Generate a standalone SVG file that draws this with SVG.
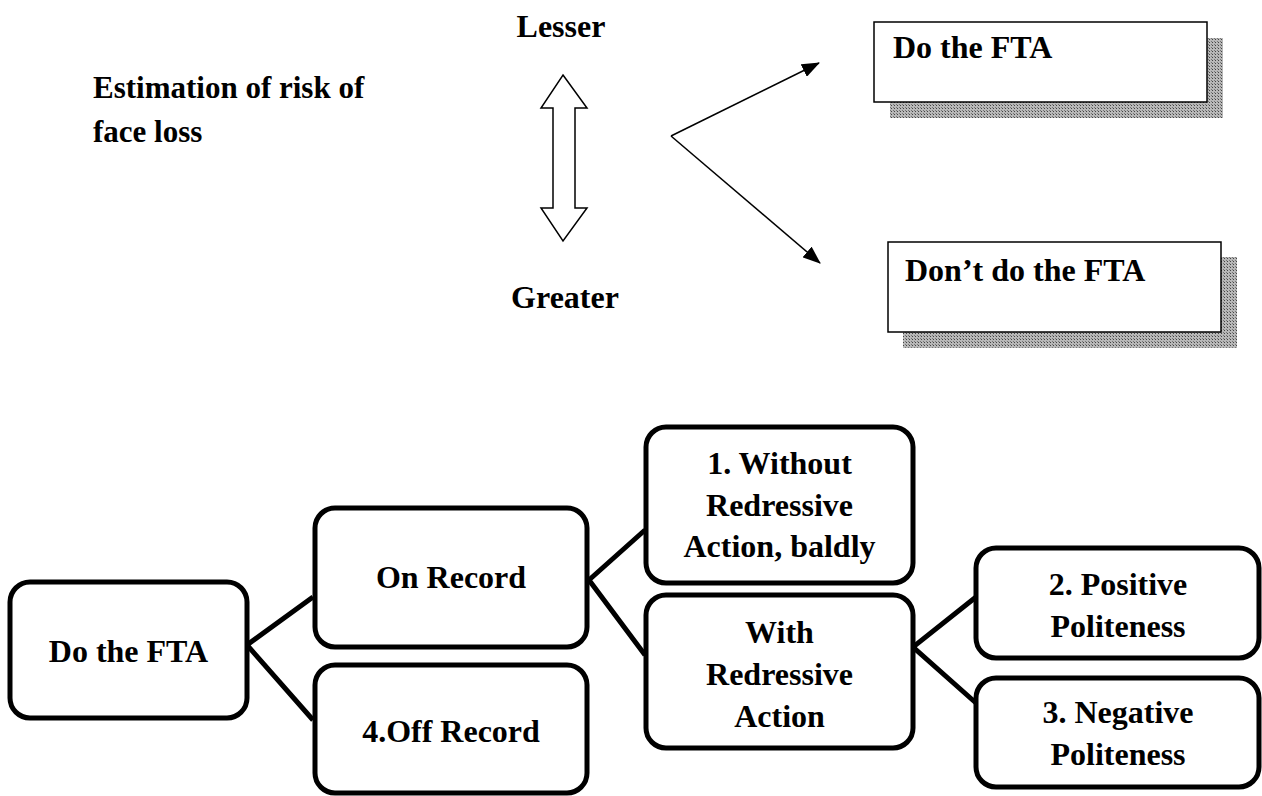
<svg xmlns="http://www.w3.org/2000/svg" width="1262" height="796" viewBox="0 0 1262 796">
<defs>
<pattern id="dots" width="3" height="3" patternUnits="userSpaceOnUse">
<rect width="3" height="3" fill="#b8b8b8"/>
<rect width="1" height="1" fill="#444"/>
<rect x="2" y="2" width="1" height="1" fill="#777"/>
</pattern>
<marker id="tri" markerWidth="18" markerHeight="14" refX="17" refY="7" orient="auto" markerUnits="userSpaceOnUse" viewBox="0 0 18 14">
<path d="M0,0 L18,7 L0,14 Z" fill="#000"/>
</marker>
<style>
text{font-family:"Liberation Serif","Times New Roman",serif;font-weight:bold;fill:#000;}
.t32{font-size:32px;}
.t31{font-size:31px;}
.mid{text-anchor:middle;}
.box{fill:#fff;stroke:#000;stroke-width:5;}
.sbox{fill:#fff;stroke:#000;stroke-width:1.5;}
.shadow{fill:url(#dots);}
.conn{stroke:#000;stroke-width:5;fill:none;}
.thin{stroke:#000;stroke-width:1.5;fill:none;}
</style>
</defs>
<rect width="1262" height="796" fill="#fff"/>

<g id="title">
<text class="t31" x="93" y="98">Estimation of risk of</text>
<text class="t31" x="93" y="142">face loss</text>
</g>
<g id="lesser"><text class="t32 mid" x="561" y="37">Lesser</text></g>
<g id="greater"><text class="t32 mid" x="565" y="308">Greater</text></g>
<g id="double-arrow">
<polygon class="thin" fill="#fff" points="563,75 587,108 575,108 575,208 587,208 563,241 541,208 553,208 553,108 541,108"/>
</g>

<g id="connectors-top">
<line class="thin" x1="671" y1="136" x2="819" y2="63" marker-end="url(#tri)"/>
<line class="thin" x1="671" y1="136" x2="820" y2="263" marker-end="url(#tri)"/>
</g>

<g id="top-do">
<rect class="shadow" x="890" y="38" width="333" height="80"/>
<rect class="sbox" x="874" y="22" width="333" height="80"/>
<text class="t32" x="893" y="58">Do the FTA</text>
</g>
<g id="top-dont">
<rect class="shadow" x="903" y="257" width="334" height="91"/>
<rect class="sbox" x="888" y="242" width="333" height="90"/>
<text class="t32" x="905" y="281">Don’t do the FTA</text>
</g>

<g id="connectors">
<polyline class="conn" points="313,597 247,645 313,720"/>
<polyline class="conn" points="645,530 589,580 645,655"/>
<polyline class="conn" points="976,597 913,647 976,703"/>
</g>

<g id="n-do">
<rect class="box" x="10" y="582" width="237" height="136" rx="20"/>
<text class="t32 mid" x="128.5" y="662">Do the FTA</text>
</g>
<g id="n-on">
<rect class="box" x="315" y="508" width="272" height="139" rx="20"/>
<text class="t32 mid" x="451" y="588">On Record</text>
</g>
<g id="n-off">
<rect class="box" x="315" y="665" width="272" height="128" rx="20"/>
<text class="t32 mid" x="451" y="742">4.Off Record</text>
</g>
<g id="n-without">
<rect class="box" x="646" y="427" width="267" height="156" rx="20"/>
<text class="t32 mid" x="779.5" y="474">1. Without</text>
<text class="t32 mid" x="779.5" y="516">Redressive</text>
<text class="t32 mid" x="779.5" y="557">Action, baldly</text>
</g>
<g id="n-with">
<rect class="box" x="646" y="595" width="267" height="153" rx="20"/>
<text class="t32 mid" x="779.5" y="643">With</text>
<text class="t32 mid" x="779.5" y="685">Redressive</text>
<text class="t32 mid" x="779.5" y="727">Action</text>
</g>
<g id="n-positive">
<rect class="box" x="976" y="548" width="283" height="110" rx="20"/>
<text class="t32 mid" x="1118" y="595">2. Positive</text>
<text class="t32 mid" x="1118" y="637">Politeness</text>
</g>
<g id="n-negative">
<rect class="box" x="976" y="678" width="283" height="109" rx="20"/>
<text class="t32 mid" x="1118" y="723">3. Negative</text>
<text class="t32 mid" x="1118" y="765">Politeness</text>
</g>
</svg>
